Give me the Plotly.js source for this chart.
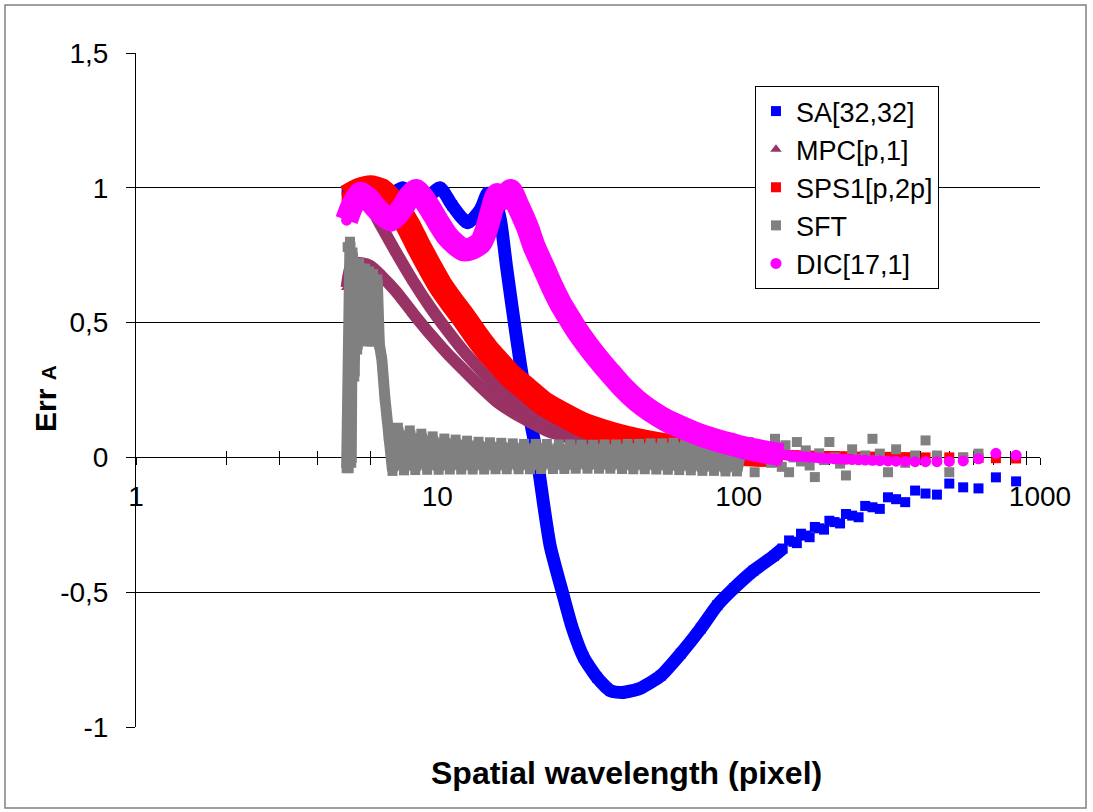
<!DOCTYPE html>
<html>
<head>
<meta charset="utf-8">
<script src="https://cdn.plot.ly/plotly-3.0.1.min.js"></script>
<style>html,body{margin:0;padding:0;background:#fff;}#chart{width:1093px;height:812px;}</style>
</head>
<body>
<div id="chart"></div>
<script>
// ---------------- data ----------------
// SA[32,32]
const saDenseX = [5.0, 5.5, 6.2, 7.0, 7.7, 8.4, 9.3, 10.2, 11.2, 12.6, 13.9, 14.7, 15.4, 16.2, 17.0, 17.9, 18.9, 19.9, 20.9, 21.6, 22.5, 23.7, 26.0, 28.0, 30.6, 33.9, 37.6, 41.1, 47.2, 55.1, 64.2, 74.8, 85.0, 96.5, 112, 131, 140];
const saDenseY = [0.99, 0.975, 0.96, 0.975, 1.0, 0.955, 0.965, 1.0, 0.935, 0.87, 0.92, 0.98, 0.97, 0.88, 0.70, 0.52, 0.34, 0.19, 0.07, -0.03, -0.17, -0.33, -0.50, -0.63, -0.742, -0.817, -0.866, -0.872, -0.856, -0.81, -0.728, -0.635, -0.548, -0.485, -0.42, -0.365, -0.338];
const saTailX = [147, 152, 156, 161, 167, 172, 179, 185, 192, 200, 208, 217, 227, 238, 250, 263, 278, 294, 313, 333, 357, 385, 417, 455, 500, 556, 625, 714, 833];
const saTailY = [-0.308, -0.313, -0.318, -0.283, -0.29, -0.296, -0.258, -0.263, -0.268, -0.235, -0.24, -0.245, -0.21, -0.216, -0.222, -0.18, -0.185, -0.191, -0.148, -0.155, -0.166, -0.123, -0.134, -0.138, -0.097, -0.111, -0.115, -0.074, -0.089];

// MPC[p,1] (two interleaved branches)
const mpcUpperX = [5.6, 6.0, 6.5, 7.3, 8.3, 9.5, 10.8, 12.2, 13.9, 15.8, 17.9, 20.4, 23.5, 27, 31, 36, 42, 50, 60];
const mpcUpperY = [0.97, 0.93, 0.86, 0.76, 0.655, 0.555, 0.47, 0.395, 0.325, 0.26, 0.21, 0.165, 0.115, 0.088, 0.068, 0.052, 0.04, 0.031, 0.024];
const mpcLowerX = [5.0, 5.2, 5.6, 6.0, 6.5, 7.3, 8.3, 9.5, 10.8, 12.2, 13.9, 15.8, 17.9, 20.4, 23.5, 27, 31, 36, 42, 50, 60, 75, 100, 140];
const mpcLowerY = [0.63, 0.72, 0.72, 0.71, 0.675, 0.615, 0.535, 0.455, 0.385, 0.325, 0.262, 0.205, 0.165, 0.13, 0.095, 0.075, 0.058, 0.045, 0.035, 0.027, 0.02, 0.014, 0.008, 0.004];

// SPS1[p,2p]
const spsDenseX = [5.0, 5.5, 6.0, 6.5, 7.0, 7.35, 8.0, 8.6, 9.4, 10.2, 11.2, 12.2, 13.3, 14.6, 16.0, 17.4, 19.9, 22.5, 26, 30, 35, 42, 50, 60, 72, 88, 110, 140];
const spsDenseY = [0.965, 0.99, 1.0, 0.99, 0.955, 0.925, 0.86, 0.79, 0.71, 0.64, 0.575, 0.52, 0.46, 0.40, 0.35, 0.305, 0.25, 0.2, 0.16, 0.124, 0.097, 0.072, 0.054, 0.04, 0.03, 0.02, 0.013, 0.009];
const spsTailX = [147, 152, 156, 161, 167, 172, 179, 185, 192, 200, 208, 217, 227, 238, 250, 263, 278, 294, 313, 333, 357, 385, 417, 455, 500, 556, 625, 714, 833];
const spsTailY = [0.008, 0.008, 0.007, 0.007, 0.007, 0.006, 0.006, 0.006, 0.005, 0.005, 0.005, 0.004, 0.004, 0.004, 0.003, 0.003, 0.003, 0.002, 0.002, 0.002, 0.001, 0.001, 0.0, 0.0, 0.0, -0.001, -0.002, -0.003, -0.004];

// SFT
const sftDenseX = [5.0, 5.04, 5.08, 5.13, 5.18, 5.23, 5.3, 5.36, 5.42, 5.5, 5.56, 5.62, 5.68, 5.76, 5.85, 5.94, 6.03, 6.12, 6.22, 6.32, 6.42, 6.55, 6.7, 6.9,
  7.1, 7.4, 7.75, 8.1, 8.45, 8.85, 9.25, 9.65, 10.1, 10.55, 11.0, 11.5, 12.0, 12.55, 13.1, 13.7, 14.3, 14.95, 15.6, 16.3, 17.0, 17.8, 18.6, 19.4,
  20.3, 21.2, 22.1, 23.1, 24.2, 25.3, 26.4, 27.6, 28.8, 30.1, 31.5, 32.9, 34.4, 35.9, 37.5, 39.2, 41.0, 42.8, 44.7, 46.7, 48.8, 51.0, 53.3,
  55.7, 58.2, 60.8, 63.5, 66.4, 69.4, 72.5, 75.8, 79.2, 82.8, 86.5, 90.4, 94.5, 98.7, 103, 108, 113];
const sftDenseY = [-0.04, 0.78, -0.04, 0.8, -0.02, 0.76, 0.3, 0.72, 0.4, 0.72, 0.44, 0.7, 0.44, 0.7, 0.43, 0.69, 0.43, 0.68, 0.43, 0.66, 0.42, 0.36, 0.22, 0.08,
  -0.05, 0.11, -0.048, 0.1, -0.047, 0.088, -0.046, 0.078, -0.046, 0.07, -0.045, 0.066, -0.045, 0.062, -0.045, 0.058, -0.045, 0.056, -0.044,
  0.054, -0.044, 0.052, -0.044, 0.05, -0.044, 0.05, -0.043, 0.05, -0.043, 0.048, -0.043, 0.048, -0.042, 0.047, -0.042, 0.047, -0.042,
  0.048, -0.042, 0.048, -0.043, 0.05, -0.044, 0.05, -0.044, 0.052, -0.045, 0.052, -0.046, 0.054, -0.047, 0.055, -0.048, 0.056, -0.05, 0.058,
  -0.05, 0.058, -0.052, 0.06, -0.052, 0.058];
const sftTailX = [118, 128, 132, 135, 139, 143, 147, 152, 156, 161, 167, 172, 179, 185, 192, 200, 208, 217, 227, 238, 250, 263, 278, 294, 313, 333, 357, 385, 417, 455, 500, 556, 625, 714, 833];
const sftTailY = [0.057, -0.055, 0.03, -0.02, 0.069, 0.01, -0.035, 0.045, -0.055, 0.0, 0.057, -0.015, 0.026, -0.03, -0.073, 0.015, -0.01, 0.057, 0.0, -0.023, -0.067, 0.03, -0.005, 0.007, 0.069, 0.014, -0.055, 0.03, -0.02, 0.007, 0.063, 0.007, -0.055, 0.0, 0.014];

// DIC[17,1]
const dicDenseX = [5.0, 5.2, 5.55, 5.9, 6.2, 6.6, 7.0, 7.35, 7.7, 8.1, 8.5, 9.0, 9.5, 10.1, 10.8, 11.5, 12.2, 13.0, 13.9, 14.5, 15.1, 15.8, 16.6, 17.5, 18.5, 19.9, 21, 22.5, 24, 25.6, 27.3, 29.1, 31.8, 34.8, 38, 41.4, 46, 51.1, 58, 65.7, 75, 85, 95, 104, 115, 127, 140];
const dicDenseY = [0.88, 0.93, 0.98, 0.96, 0.93, 0.90, 0.88, 0.90, 0.93, 0.97, 0.99, 0.96, 0.92, 0.87, 0.82, 0.79, 0.77, 0.775, 0.795, 0.84, 0.91, 0.975, 0.96, 0.99, 0.935, 0.855, 0.78, 0.706, 0.635, 0.572, 0.52, 0.47, 0.41, 0.355, 0.305, 0.258, 0.21, 0.172, 0.135, 0.108, 0.082, 0.063, 0.048, 0.036, 0.026, 0.017, 0.01];
const dicTailX = [147, 152, 156, 161, 167, 172, 179, 185, 192, 200, 208, 217, 227, 238, 250, 263, 278, 294, 313, 333, 357, 385, 417, 455, 500, 556, 625, 714, 833];
const dicTailY = [0.007, 0.005, 0.004, 0.003, 0.002, 0.001, 0.0, -0.002, -0.003, -0.004, -0.005, -0.006, -0.007, -0.008, -0.009, -0.01, -0.011, -0.012, -0.013, -0.014, -0.015, -0.016, -0.016, -0.016, -0.015, -0.013, -0.005, 0.015, 0.008];

// axis ticks
const xTickVals = [1,2,3,4,5,6,7,8,9,10,20,30,40,50,60,70,80,90,100,200,300,400,500,600,700,800,900,1000];
const xTickText = ['1','','','','','','','','','10','','','','','','','','','100','','','','','','','','','1000'];
const yTickVals = [-1, -0.5, 0, 0.5, 1, 1.5];
const yTickText = ['-1', '-0,5', '0', '0,5', '1', '1,5'];

const seriesNames = ['SA[32,32]', 'MPC[p,1]', 'SPS1[p,2p]', 'SFT', 'DIC[17,1]'];
const seriesColors = ['#0000FF', '#993366', '#FF0000', '#808080', '#FF00FF'];

// ---------------- traces ----------------
function band(x, y, color, width, shape) {
  return {x: x, y: y, type: 'scatter', mode: 'lines', showlegend: false, hoverinfo: 'skip',
          line: {color: color, width: width, shape: shape || 'spline', smoothing: 0.6}};
}
function pts(x, y, name, color, symbol, size) {
  return {x: x, y: y, type: 'scatter', mode: 'markers', name: name,
          marker: {color: color, symbol: symbol, size: size, line: {width: 0}}};
}

const traces = [
  band(saDenseX, saDenseY, seriesColors[0], 13),
  pts(saDenseX.concat(saTailX), saDenseY.concat(saTailY), seriesNames[0], seriesColors[0], 'square', 10),
  band(mpcUpperX.concat([null], mpcLowerX), mpcUpperY.concat([null], mpcLowerY), seriesColors[1], 12),
  pts(mpcUpperX.concat(mpcLowerX), mpcUpperY.concat(mpcLowerY), seriesNames[1], seriesColors[1], 'triangle-up', 10),
  band(spsDenseX, spsDenseY, seriesColors[2], 25),
  pts(spsDenseX.concat(spsTailX), spsDenseY.concat(spsTailY), seriesNames[2], seriesColors[2], 'square', 10),
  band(sftDenseX, sftDenseY, seriesColors[3], 11, 'linear'),
  pts(sftDenseX.concat(sftTailX), sftDenseY.concat(sftTailY), seriesNames[3], seriesColors[3], 'square', 10),
  band(dicDenseX, dicDenseY, seriesColors[4], 23),
  pts(dicDenseX.concat(dicTailX), dicDenseY.concat(dicTailY), seriesNames[4], seriesColors[4], 'circle', 11),
  {x: [], y: [], xaxis: 'x2', yaxis: 'y', type: 'scatter', mode: 'markers', showlegend: false, hoverinfo: 'skip'}
];

const FONT = 'Arial, "Liberation Sans", sans-serif';

const layout = {
  width: 1093, height: 812,
  margin: {l: 136, r: 53, t: 53, b: 85, pad: 0},
  paper_bgcolor: '#ffffff', plot_bgcolor: '#ffffff',
  font: {family: FONT, size: 28, color: '#000'},
  showlegend: true,
  legend: {x: 0.6847, y: 0.951, xanchor: 'left', yanchor: 'top', bgcolor: '#fff',
           bordercolor: '#000', borderwidth: 1, font: {family: FONT, size: 27, color: '#000'}},
  xaxis: {type: 'log', range: [0, 3], anchor: 'free', position: 0.4,
          tickmode: 'array', tickvals: xTickVals, ticktext: xTickText,
          ticks: 'outside', ticklen: 7, tickwidth: 1, tickcolor: '#000',
          showline: true, linecolor: '#000', linewidth: 1, showgrid: false, zeroline: false,
          layer: 'below traces', tickfont: {family: FONT, size: 28, color: '#000'},
          ticklabelstandoff: 7},
  xaxis2: {type: 'log', range: [0, 3], overlaying: 'x', anchor: 'free', position: 0.4,
           tickmode: 'array', tickvals: xTickVals, ticks: 'inside', ticklen: 6, tickwidth: 1, tickcolor: '#000',
           showticklabels: false, showline: false, showgrid: false, zeroline: false, layer: 'below traces'},
  yaxis: {range: [-1, 1.5], tickmode: 'array', tickvals: yTickVals, ticktext: yTickText,
          ticks: 'outside', ticklen: 9, tickwidth: 1, tickcolor: '#000',
          showline: true, linecolor: '#000', linewidth: 1,
          showgrid: true, gridcolor: '#000', gridwidth: 1, zeroline: false,
          tickfont: {family: FONT, size: 28, color: '#000'}, ticklabelstandoff: 12},
  annotations: [
    {xref: 'paper', yref: 'paper', x: 0.543, y: -0.068, xanchor: 'center', yanchor: 'middle',
     showarrow: false, text: '<b>Spatial wavelength (pixel)</b>',
     font: {family: FONT, size: 32, color: '#000'}},
    {xref: 'paper', yref: 'paper', x: -0.1007, y: 0.488, xanchor: 'center', yanchor: 'middle', textangle: -90,
     showarrow: false, text: '<b>Err <span style="font-size:21px">A</span></b>',
     font: {family: FONT, size: 30, color: '#000'}}
  ],
  shapes: [{type: 'rect', xref: 'paper', yref: 'paper', x0: -0.1449, x1: 1.0509, y0: -0.1202, y1: 1.0712,
            line: {color: '#808080', width: 1.5}, fillcolor: 'rgba(0,0,0,0)', layer: 'below'}]
};

Plotly.newPlot('chart', traces, layout, {displayModeBar: false, staticPlot: true});
</script>
</body>
</html>
